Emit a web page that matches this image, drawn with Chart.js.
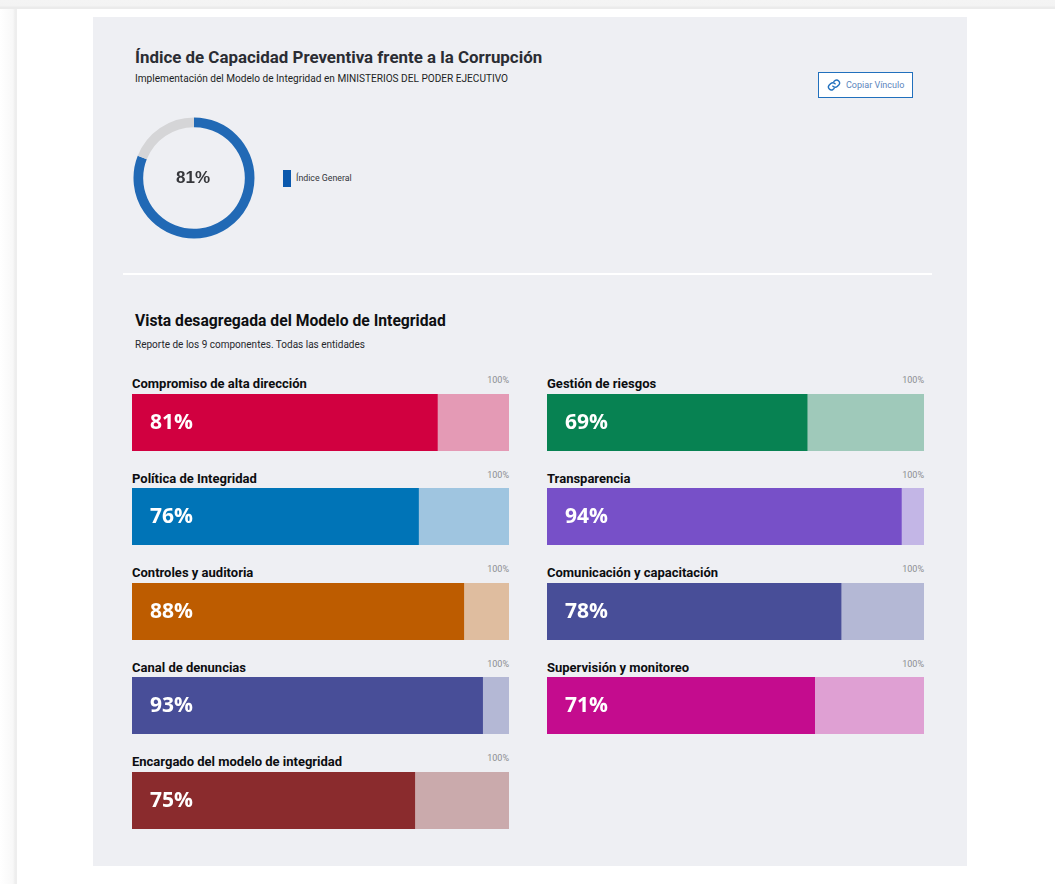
<!DOCTYPE html>
<html lang="es">
<head>
<meta charset="utf-8">
<title>Índice de Capacidad Preventiva frente a la Corrupción</title>
<script src="https://cdn.jsdelivr.net/npm/chart.js@4"></script>
<style>
    html, body { margin: 0; padding: 0; width: 1055px; height: 884px; overflow: hidden; background: #fff; font-family: Roboto, sans-serif; }
    .abs { position: absolute; white-space: nowrap; }
    #strip-top { left: 0; top: 0; width: 1055px; height: 9px; background: linear-gradient(#f4f4f4 0, #f3f3f3 6px, #ebebeb 7px, #ebebeb 9px); }
    #strip-left { left: 0; top: 9px; width: 17px; height: 875px; background: linear-gradient(90deg, #fff 0, #f8f8f8 13px, #eeeeee 15px, #eeeeee 17px); }
    #panel { left: 93px; top: 17px; width: 874px; height: 849px; background: #eeeff3; }
    #title { left: 135px; top: 46px; font-size: 16.9px; font-weight: 700; color: #2b2d33; line-height: 22px; }
    #subtitle { left: 135px; top: 72px; font-size: 10.1px; color: #1d1f24; line-height: 13px; }
    #btn { left: 818px; top: 72px; width: 93px; height: 24px; border: 1.5px solid #2170bd; background: #fff; }
    #btn svg { position: absolute; left: 8px; top: 5px; }
    #btn span { position: absolute; left: 27px; top: 6px; font-size: 9px; line-height: 12px; color: #5b85bd; }
    #legend-box { left: 283px; top: 170px; width: 8px; height: 17px; background: #0a58ad; }
    #legend-text { left: 296px; top: 172px; font-size: 8.8px; line-height: 12px; color: #33353a; }
    #sep { left: 123px; top: 273px; width: 809px; height: 2px; background: #fff; }
    #h2 { left: 135px; top: 310px; font-size: 15.7px; font-weight: 700; color: #0e0f12; line-height: 21px; }
    #h3 { left: 135px; top: 338px; font-size: 10px; color: #26282d; line-height: 13px; }
    .name { font-size: 13px; font-weight: 700; color: #0c0d10; line-height: 16px; }
    .max { font-size: 9px; color: #8c8d91; line-height: 11px; text-align: right; width: 40px; }
    canvas { display: block; }
</style>
</head>
<body>
<div class="abs" id="strip-top"></div>
<div class="abs" id="strip-left"></div>
<div class="abs" id="panel"></div>

<div class="abs" id="title">Índice de Capacidad Preventiva frente a la Corrupción</div>
<div class="abs" id="subtitle">Implementación del Modelo de Integridad en MINISTERIOS DEL PODER EJECUTIVO</div>
<div class="abs" id="btn">
    <svg width="14" height="14" viewBox="0 0 24 24" fill="none" stroke="#2170bd" stroke-width="2.4" stroke-linecap="round" stroke-linejoin="round">
        <path d="M10 14a5 5 0 0 0 7.5.5l3-3a5 5 0 0 0-7-7l-1.7 1.7"/>
        <path d="M14 10a5 5 0 0 0-7.5-.5l-3 3a5 5 0 0 0 7 7l1.7-1.7"/>
    </svg>
    <span>Copiar Vínculo</span>
</div>

<canvas class="abs" id="donut" width="130" height="130" style="left:128.5px;top:112.5px"></canvas>
<div class="abs" id="legend-box"></div>
<div class="abs" id="legend-text">Índice General</div>
<div class="abs" id="sep"></div>

<div class="abs" id="h2">Vista desagregada del Modelo de Integridad</div>
<div class="abs" id="h3">Reporte de los 9 componentes. Todas las entidades</div>

<div id="tiles"></div>

<script>
const indiceGeneral = 81
const maximo = 100

const componentes = [
    "Compromiso de alta dirección",
    "Política de Integridad",
    "Controles y auditoria",
    "Canal de denuncias",
    "Encargado del modelo de integridad",
    "Gestión de riesgos",
    "Transparencia",
    "Comunicación y capacitación",
    "Supervisión y monitoreo"
]
const valores = [81, 76, 88, 93, 75, 69, 94, 78, 71]
const colores = [
    '#d10040', '#0074b7', '#bd5c00', '#484e98', '#8a2b2d',
    '#078252', '#7750c8', '#484e98', '#c40c8e'
]
const coloresClaros = [
    '#e49ab5', '#9fc5e0', '#dfbd9f', '#b4b8d5', '#caaaac',
    '#9fc9ba', '#c3b6e6', '#b4b8d5', '#dfa0d3'
]

// texto del porcentaje dentro de la barra
const etiquetaBarra = {
    id: 'etiquetaBarra',
    afterDatasetsDraw(chart) {
        const ctx = chart.ctx
        const bar = chart.getDatasetMeta(0).data[0]
        ctx.save()
        ctx.fillStyle = '#fff'
        ctx.font = '700 21px "Open Sans"'
        ctx.textBaseline = 'middle'
        ctx.fillText(chart.data.datasets[0].data[0] + '%', 18, bar.y + 0.5)
        ctx.restore()
    }
}

// texto central del indice general
const textoCentro = {
    id: 'textoCentro',
    afterDraw(chart) {
        const ctx = chart.ctx
        const arc = chart.getDatasetMeta(0).data[0]
        ctx.save()
        ctx.fillStyle = '#36373b'
        ctx.font = 'bold 17px "Liberation Sans"'
        ctx.textAlign = 'center'
        ctx.textBaseline = 'middle'
        ctx.fillText(chart.data.datasets[0].data[0] + '%', arc.x - 1, arc.y)
        ctx.restore()
    }
}

function drawDonut() {
    new Chart(document.getElementById('donut').getContext('2d'), {
        type: 'doughnut',
        data: {
            labels: ['Índice General', 'Resto'],
            datasets: [{
                data: [indiceGeneral, maximo - indiceGeneral],
                backgroundColor: ['#2169b5', '#d5d5d7'],
                borderWidth: 0
            }]
        },
        options: {
            responsive: false,
            animation: false,
            cutout: '84%',
            layout: { padding: 4.5 },
            plugins: { legend: { display: false }, tooltip: { enabled: false } }
        },
        plugins: [textoCentro]
    })
}

function drawBar(index) {
    const cont = document.getElementById('tiles')
    const col = index < 5 ? 0 : 1
    const row = index < 5 ? index : index - 5
    const left = col === 0 ? 132 : 547
    const top = 394 + row * 94.5

    const name = document.createElement('div')
    name.className = 'abs name'
    name.textContent = componentes[index]
    name.style.left = left + 'px'
    name.style.top = (top - 18) + 'px'
    cont.appendChild(name)

    const max = document.createElement('div')
    max.className = 'abs max'
    max.textContent = maximo + '%'
    max.style.left = (left + 337) + 'px'
    max.style.top = (top - 19) + 'px'
    cont.appendChild(max)

    const canvas = document.createElement('canvas')
    canvas.className = 'abs'
    canvas.width = 377
    canvas.height = 57
    canvas.style.left = left + 'px'
    canvas.style.top = Math.floor(top) + 'px'
    cont.appendChild(canvas)

    new Chart(canvas.getContext('2d'), {
        type: 'bar',
        data: {
            labels: [componentes[index]],
            datasets: [
                { data: [valores[index]], backgroundColor: colores[index], borderWidth: 0 },
                { data: [maximo - valores[index]], backgroundColor: coloresClaros[index], borderWidth: 0 }
            ]
        },
        options: {
            indexAxis: 'y',
            responsive: false,
            animation: false,
            barPercentage: 1,
            categoryPercentage: 1,
            scales: {
                x: { display: false, stacked: true, min: 0, max: maximo },
                y: { display: false, stacked: true }
            },
            plugins: { legend: { display: false }, tooltip: { enabled: false } }
        },
        plugins: [etiquetaBarra]
    })
}

document.addEventListener('DOMContentLoaded', () => {
    drawDonut()
    componentes.forEach((c, i) => drawBar(i))
})
</script>
</body>
</html>
